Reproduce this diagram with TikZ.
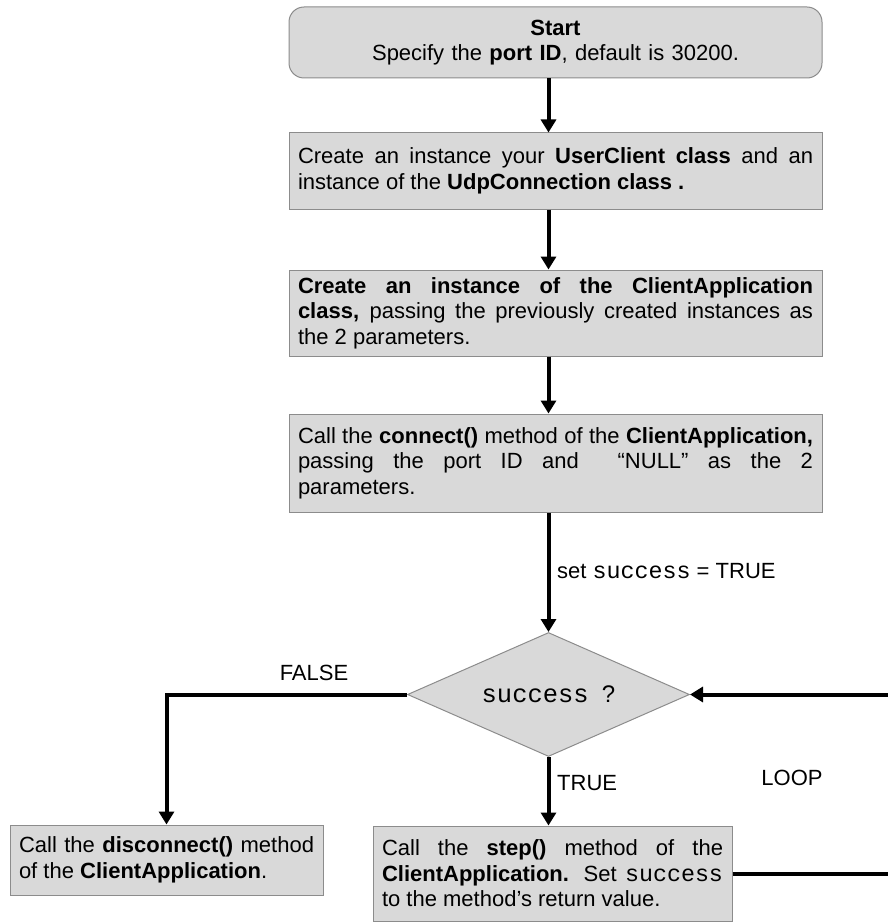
\documentclass[tikz,border=0pt]{standalone}
\usepackage{fontspec}
\setmainfont{Liberation Sans}
\setmonofont{Liberation Mono}[Scale=1.06]
\usetikzlibrary{arrows.meta,shapes.geometric,calc}

\definecolor{boxfill}{HTML}{D9D9D9}
\definecolor{boxline}{HTML}{8C8C8C}

% justified box text: let lines stretch freely, never hyphenate
\tolerance=10000
\hbadness=10000
\hyphenpenalty=10000
\exhyphenpenalty=10000

\tikzset{
  txt/.style={font=\fontsize{22}{25.5}\selectfont},
  procbox/.style={txt, draw=boxline, line width=1pt, fill=boxfill,
    rectangle, inner xsep=9pt, inner ysep=0pt, align=justify},
  decision/.style={txt, draw=boxline, line width=1pt, fill=boxfill,
    diamond, shape aspect=2.27, inner sep=0pt,
    minimum width=282pt, minimum height=124pt},
  lbl/.style={txt, inner sep=0pt},
  flow/.style={line width=4pt, black, line join=miter,
    -{Triangle[width=15pt,length=13pt]}},
}

\begin{document}
\begin{tikzpicture}[x=1pt, y=-1pt]
\useasboundingbox (0,0) rectangle (888,923);

% process steps
\node[procbox, rounded corners=15pt, text width=515pt, minimum height=71pt,
      align=center] (start) at (555.5,42.5)
  {\textbf{Start}\\Specify the \textbf{port ID}, default is 30200.};

\node[procbox, text width=515pt, minimum height=76pt] (mk) at (555.5,171)
  {Create an instance your \textbf{UserClient class} and an\linebreak
   instance of the \textbf{UdpConnection class .}};

\node[procbox, text width=515pt, minimum height=86pt] (app) at (555.5,313)
  {\textbf{Create an instance of the ClientApplication}\linebreak
   \textbf{class,} passing the previously created instances as\linebreak
   the 2 parameters.};

\node[procbox, text width=515pt, minimum height=98pt] (conn) at (555.5,463)
  {Call the \textbf{connect()} method of the \textbf{ClientApplication,}\linebreak
   passing the port ID and \ “NULL” as the 2\linebreak
   parameters.};

\node[decision] (dec) at (548.5,694.5)
  {\fontsize{24}{28}\selectfont\ttfamily success\rmfamily\ \ ?};

\node[procbox, text width=295pt, minimum height=70pt] (disc) at (166.5,860)
  {Call the \textbf{disconnect()} method\linebreak
   of the \textbf{ClientApplication}.};

\node[procbox, text width=341pt, minimum height=95pt] (stp) at (552.5,873.5)
  {Call the \textbf{step()} method of the\linebreak
   \textbf{ClientApplication.} Set \texttt{success}\linebreak
   to the method’s return value.};

% labels
\node[lbl, anchor=west] (setlbl) at (557,571) {set \texttt{success} = TRUE};
\node[lbl] (falselbl) at (314,673) {FALSE};
\node[lbl, anchor=west] (truelbl) at (557,783) {TRUE};
\node[lbl] (looplbl) at (792,778) {LOOP};

% connectors
\draw[flow] (start.south -| dec.north) -- (mk.north -| dec.north);
\draw[flow] (mk.south -| dec.north) -- (app.north -| dec.north);
\draw[flow] (app.south -| dec.north) -- (conn.north -| dec.north);
\draw[flow] (conn.south -| dec.north) -- (dec.north);
\draw[flow] (dec.west) -| (disc.north);
\draw[flow] (dec.south) -- (stp.north -| dec.south);
\coordinate (loopc) at (905,874);
\draw[flow] (stp.east |- loopc) -- (loopc) |- (dec.east);
\end{tikzpicture}
\end{document}
